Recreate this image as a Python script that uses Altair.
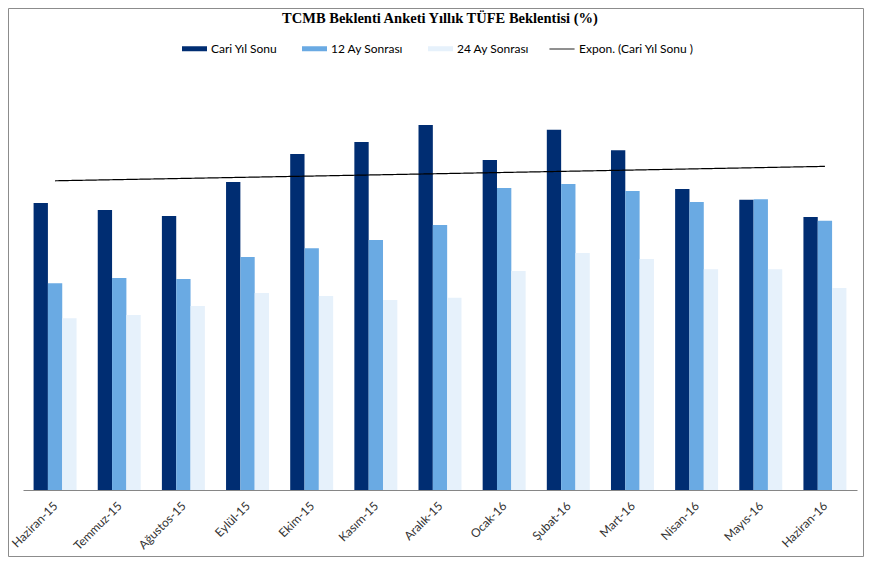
import sys
import altair as alt
import pandas as pd

months = ["Haziran-15", "Temmuz-15", "Ağustos-15", "Eylül-15", "Ekim-15", "Kasım-15",
          "Aralık-15", "Ocak-16", "Şubat-16", "Mart-16", "Nisan-16", "Mayıs-16", "Haziran-16"]
cari = [8.20, 8.00, 7.83, 8.80, 9.60, 9.94, 10.43, 9.43, 10.29, 9.71, 8.60, 8.29, 7.80]
ay12 = [5.91, 6.06, 6.03, 6.66, 6.91, 7.14, 7.57, 8.63, 8.74, 8.54, 8.23, 8.31, 7.69]
ay24 = [4.91, 5.00, 5.26, 5.63, 5.54, 5.43, 5.49, 6.26, 6.77, 6.60, 6.31, 6.31, 5.77]
series_names = ["Cari Yıl Sonu", "12 Ay Sonrası", "24 Ay Sonrası"]
trend_name = "Expon. (Cari Yıl Sonu )"
colors = ["#002D72", "#6AAAE3", "#E6F1FB"]

rows = []
for i, m in enumerate(months):
    for s, vals in zip(series_names, [cari, ay12, ay24]):
        rows.append({"month": m, "idx": i, "series": s, "value": vals[i]})
df = pd.DataFrame(rows)

color_scale = alt.Scale(domain=series_names, range=colors)
bar_legend = alt.Legend(
    title=None, orient="none", legendX=159, legendY=-34, direction="horizontal",
    columns=3, columnPadding=24, labelFont="Lato", labelFontSize=12,
    labelColor="#000000", labelOffset=4, padding=0, symbolSize=625,
    symbolType="M-1,-0.2H1V0.2H-1Z", symbolStrokeWidth=0, symbolOpacity=1,
)
line_legend = alt.Legend(
    title=None, orient="none", legendX=526, legendY=-34, direction="horizontal",
    labelFont="Lato", labelFontSize=12, labelColor="#000000", labelOffset=4,
    padding=0, symbolSize=625, symbolType="stroke", symbolStrokeColor="#000000",
    symbolStrokeWidth=1,
)

yscale = alt.Scale(domain=[0, 12], nice=False)

border = alt.Chart(pd.DataFrame({"b": [0]})).mark_rect(
    fill="transparent", stroke="#8C8C8C", strokeWidth=1
).encode(
    x=alt.value(-14.5), x2=alt.value(840.5), y=alt.value(-61.5), y2=alt.value(486.5)
)

bars = alt.Chart(df).mark_bar().encode(
    x=alt.X("month:N", sort=months,
            scale=alt.Scale(paddingInner=0.33, paddingOuter=0.165),
            axis=alt.Axis(title=None, labelAngle=-45, ticks=False, domainColor="#868686",
                          labelFont="Lato", labelFontSize=12, labelColor="#333333",
                          labelPadding=10, labelOffset=-3)),
    xOffset=alt.XOffset("series:N", sort=series_names,
                        scale=alt.Scale(paddingInner=0, paddingOuter=0)),
    y=alt.Y("value:Q", scale=yscale, axis=None),
    color=alt.Color("series:N", scale=color_scale, legend=bar_legend),
)

trend = alt.Chart(df).transform_filter(
    alt.datum.series == "Cari Yıl Sonu"
).transform_regression(
    "idx", "value", method="exp", extent=[0, 12]
).transform_calculate(
    trend=f"'{trend_name}'"
).mark_line(strokeWidth=1.2, color="#000000").encode(
    x=alt.X("idx:Q", scale=alt.Scale(domain=[-0.5, 12.5], nice=False, zero=False), axis=None),
    y=alt.Y("value:Q", scale=yscale, axis=None),
    strokeDash=alt.StrokeDash("trend:N", scale=alt.Scale(domain=[trend_name], range=[[1, 0]]),
                              legend=line_legend),
)

chart = alt.layer(border, bars, trend).resolve_scale(x="independent").properties(
    width=834, height=420,
    autosize=alt.AutoSizeParams(type="none"),
    padding={"left": 15, "top": 62, "right": 7, "bottom": 67},
    background="white",
    title=alt.TitleParams("TCMB Beklenti Anketi Yıllık TÜFE Beklentisi (%)",
                          font="Liberation Serif", fontSize=14.5, fontWeight="bold",
                          color="#000000", offset=0, dy=18, anchor="middle"),
).configure_view(stroke=None)

try:
    chart.save("out.html", embed_options={"renderer": "svg", "actions": False})
except Exception as e:
    print(str(e)[:2000], file=sys.stderr)
    raise SystemExit(1)
